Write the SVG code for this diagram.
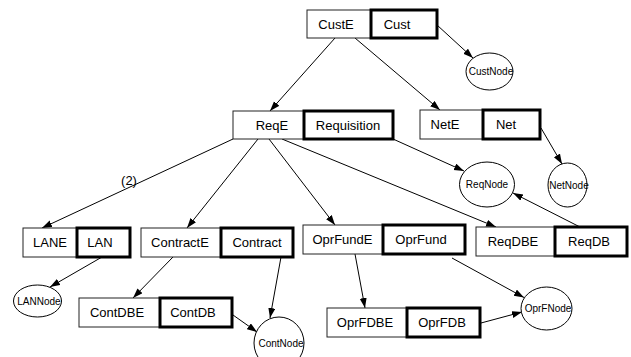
<svg xmlns="http://www.w3.org/2000/svg" width="631" height="357" viewBox="0 0 631 357">
<defs>
<marker id="ah" markerUnits="userSpaceOnUse" markerWidth="11" markerHeight="8" refX="10" refY="3.5" orient="auto">
<path d="M0,0 L10,3.5 L0,7 z" fill="#000"/>
</marker>
<style>
.e{fill:#fff;stroke:#222;stroke-width:1}
.t{fill:#fff;stroke:#000;stroke-width:3}
.lb{font-family:"Liberation Sans",Arial,sans-serif;font-size:13px;fill:#000;text-anchor:middle}
.nd{fill:#fff;stroke:#000;stroke-width:1}
.nl{font-family:"Liberation Sans",Arial,sans-serif;font-size:10px;fill:#000;text-anchor:middle}
.c{stroke:#000;stroke-width:1;fill:none;marker-end:url(#ah)}
</style>
</defs>
<rect width="631" height="357" fill="#fff"/>
<g id="connectors">
<line class="c" x1="335" y1="38" x2="270" y2="111"/>
<line class="c" x1="355" y1="38" x2="440" y2="110"/>
<line class="c" x1="437" y1="25" x2="473" y2="58"/>
<line class="c" x1="233" y1="139" x2="42" y2="228"/>
<line class="c" x1="258" y1="139" x2="187" y2="228"/>
<line class="c" x1="269" y1="139" x2="335" y2="225"/>
<line class="c" x1="282" y1="139" x2="496" y2="227"/>
<line class="c" x1="393" y1="139" x2="464" y2="171"/>
<line class="c" x1="541" y1="128" x2="562" y2="164"/>
<line class="c" x1="580" y1="227" x2="513" y2="193"/>
<line class="c" x1="102" y1="257" x2="50" y2="287"/>
<line class="c" x1="173" y1="257" x2="133" y2="298"/>
<line class="c" x1="281" y1="257" x2="270" y2="318"/>
<line class="c" x1="233" y1="315" x2="257" y2="332"/>
<line class="c" x1="355" y1="254" x2="365" y2="308"/>
<line class="c" x1="452" y1="258" x2="524" y2="297.5"/>
<line class="c" x1="481" y1="323" x2="522" y2="312"/>
<text class="lb" x="129" y="185">(2)</text>
</g>
<g id="cust">
<rect class="e" x="307" y="10" width="64" height="28"/>
<rect class="t" x="371" y="10" width="66" height="28"/>
<text class="lb" x="336" y="29">CustE</text>
<text class="lb" x="397" y="29">Cust</text>
</g>
<g id="req">
<rect class="e" x="233" y="111" width="71" height="28"/>
<rect class="t" x="304" y="111" width="89" height="28"/>
<text class="lb" x="272" y="130">ReqE</text>
<text class="lb" x="348" y="130">Requisition</text>
</g>
<g id="net">
<rect class="e" x="420" y="110" width="63" height="29"/>
<rect class="t" x="483" y="110" width="57" height="29"/>
<text class="lb" x="445" y="129">NetE</text>
<text class="lb" x="506" y="129">Net</text>
</g>
<g id="lan">
<rect class="e" x="23" y="228" width="54" height="29"/>
<rect class="t" x="77" y="228" width="53" height="29"/>
<text class="lb" x="50" y="247">LANE</text>
<text class="lb" x="100" y="247">LAN</text>
</g>
<g id="contract">
<rect class="e" x="141" y="228" width="80" height="29"/>
<rect class="t" x="221" y="228" width="72" height="29"/>
<text class="lb" x="180" y="247">ContractE</text>
<text class="lb" x="257" y="247">Contract</text>
</g>
<g id="oprfund">
<rect class="e" x="303" y="225" width="80" height="29"/>
<rect class="t" x="383" y="225" width="82" height="29"/>
<text class="lb" x="342.5" y="244">OprFundE</text>
<text class="lb" x="421" y="244">OprFund</text>
</g>
<g id="reqdb">
<rect class="e" x="476" y="227" width="79" height="29"/>
<rect class="t" x="555" y="227" width="72" height="29"/>
<text class="lb" x="513" y="246">ReqDBE</text>
<text class="lb" x="589" y="246">ReqDB</text>
</g>
<g id="contdb">
<rect class="e" x="79" y="298" width="81" height="29"/>
<rect class="t" x="160" y="298" width="72" height="29"/>
<text class="lb" x="117" y="317">ContDBE</text>
<text class="lb" x="193" y="317">ContDB</text>
</g>
<g id="oprfdb">
<rect class="e" x="327" y="308" width="80" height="29"/>
<rect class="t" x="407" y="308" width="73" height="29"/>
<text class="lb" x="365" y="327">OprFDBE</text>
<text class="lb" x="442" y="327">OprFDB</text>
</g>
<g id="custnode">
<ellipse class="nd" cx="489.5" cy="71.5" rx="23.5" ry="18.5"/>
<text class="nl" x="491" y="75">CustNode</text>
</g>
<g id="reqnode">
<ellipse class="nd" cx="487" cy="184.5" rx="27.5" ry="22.5"/>
<text class="nl" x="487" y="188">ReqNode</text>
</g>
<g id="netnode">
<ellipse class="nd" cx="567.5" cy="185" rx="19.5" ry="22"/>
<text class="nl" x="569" y="189">NetNode</text>
</g>
<g id="lannode">
<ellipse class="nd" cx="37.5" cy="301" rx="24" ry="16"/>
<text class="nl" x="39" y="305">LANNode</text>
</g>
<g id="contnode">
<ellipse class="nd" cx="279" cy="343" rx="25" ry="26"/>
<text class="nl" x="281" y="347">ContNode</text>
</g>
<g id="oprfnode">
<ellipse class="nd" cx="546.5" cy="308.5" rx="25.5" ry="21.5"/>
<text class="nl" x="548" y="312">OprFNode</text>
</g>
</svg>
